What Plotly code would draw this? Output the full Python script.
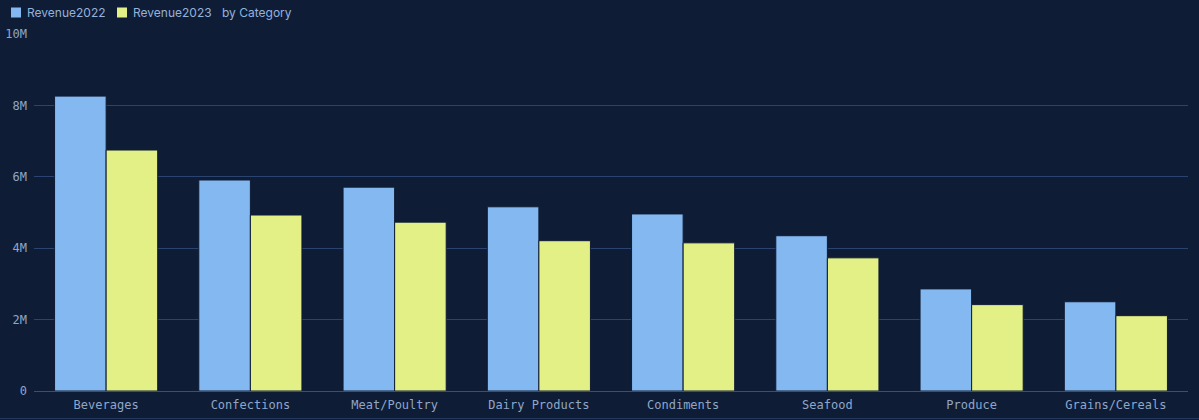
import plotly.graph_objects as go

categories = ["Beverages", "Confections", "Meat/Poultry", "Dairy Products",
              "Condiments", "Seafood", "Produce", "Grains/Cereals"]
revenue_2022 = [8.26, 5.91, 5.71, 5.16, 4.96, 4.35, 2.86, 2.50]
revenue_2023 = [6.75, 4.93, 4.73, 4.21, 4.15, 3.73, 2.42, 2.11]
series_names = ["Revenue2022", "Revenue2023"]
series_colors = ["#84b8f0", "#e3f085"]

bg = "#0f1c36"
grid = "#2a4370"
tick_col = "#8ea7c9"
legend_col = "#93b2dc"

W, H = 1199, 420
ml, mr, mt, mb = 34, 11, 34, 29
pw, ph = W - ml - mr, H - mt - mb


def px_x(px):
    return (px - ml) / pw


def px_y(py):
    return (H - mb - py) / ph


fig = go.Figure()
for name, vals, col in zip(series_names, [revenue_2022, revenue_2023], series_colors):
    fig.add_trace(go.Bar(
        name=name, x=categories, y=[v * 1e6 for v in vals],
        marker=dict(color=col, line=dict(color=bg, width=1)),
    ))

fig.update_layout(
    width=W, height=H,
    paper_bgcolor=bg, plot_bgcolor=bg,
    margin=dict(l=ml, r=mr, t=mt, b=mb),
    barmode="group", bargap=0.285, bargroupgap=0,
    showlegend=False,
    font=dict(family="DejaVu Sans Mono, monospace", size=12, color=tick_col),
)

# legend drawn by hand so the swatch/text spacing matches
leg_font = dict(family="Inter, Noto Sans, sans-serif", size=12, color=legend_col)
for i, (name, col) in enumerate(zip(series_names, series_colors)):
    sx = 11 + i * 106
    fig.add_shape(type="rect", xref="paper", yref="paper",
                  x0=px_x(sx), x1=px_x(sx + 10), y0=px_y(17.5), y1=px_y(7.5),
                  fillcolor=col, line=dict(width=0))
    fig.add_annotation(text=name, xref="paper", yref="paper", x=px_x(sx + 14), y=px_y(12.5),
                       xanchor="left", yanchor="middle", showarrow=False, font=leg_font)
fig.add_annotation(text="by Category", xref="paper", yref="paper", x=px_x(220), y=px_y(12.5),
                   xanchor="left", yanchor="middle", showarrow=False, font=leg_font)

fig.update_yaxes(
    range=[0, 10e6], tickvals=[0, 2e6, 4e6, 6e6, 8e6, 10e6],
    ticktext=["0", "2M", "4M", "6M", "8M", "10M"],
    gridcolor=grid, gridwidth=1, zeroline=False, showline=False,
    ticks="", ticklabelstandoff=6, automargin=False,
    tickfont=dict(family="DejaVu Sans Mono, monospace", size=12, color=tick_col),
)
fig.update_xaxes(
    showline=True, linecolor="#34507e", linewidth=1, ticks="", automargin=False,
    ticklabelstandoff=3,
    tickfont=dict(family="DejaVu Sans Mono, monospace", size=12, color=tick_col),
)
fig.add_shape(type="line", xref="paper", yref="paper", x0=px_x(0), x1=px_x(W),
              y0=px_y(418.5), y1=px_y(418.5), line=dict(color="#24385e", width=1))

fig.write_html("out.html", config={"displayModeBar": False},
               post_script="document.body.style.margin='0';")
